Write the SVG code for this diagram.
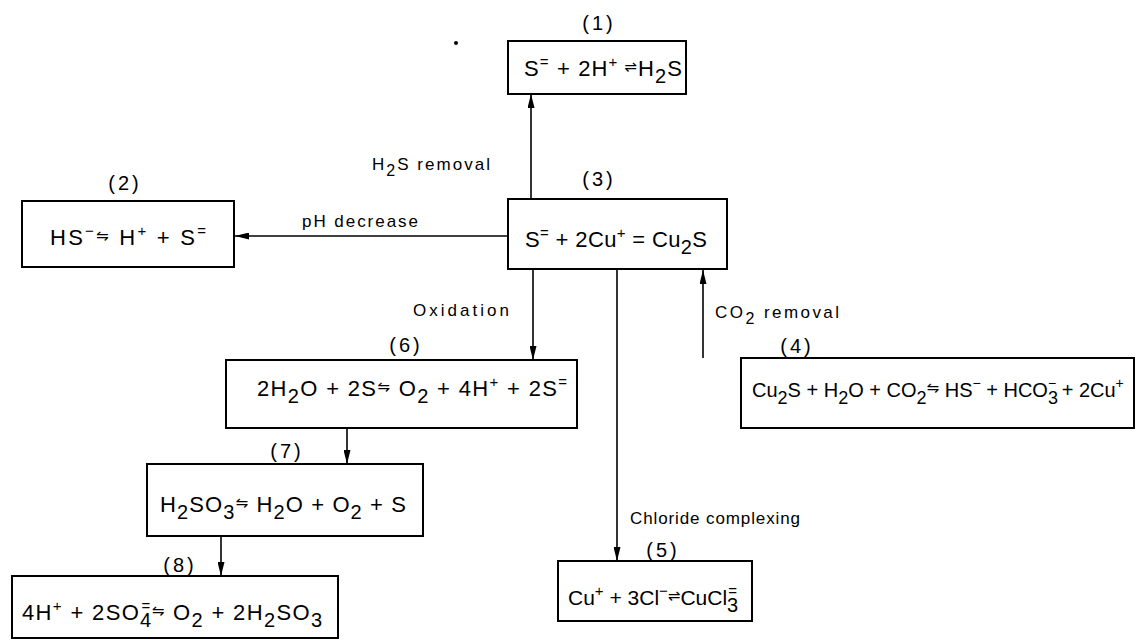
<svg xmlns="http://www.w3.org/2000/svg" width="1138" height="640" viewBox="0 0 1138 640">
<defs>
<marker id="ah" markerUnits="userSpaceOnUse" markerWidth="14" markerHeight="7" refX="14" refY="3.5" orient="auto">
<path d="M0,0 L14,3.5 L0,7 z" fill="#000"/>
</marker>
<style>
text{font-family:"Liberation Sans",Arial,sans-serif;fill:#000}
.eq{font-size:22px}
.lab{font-size:17px}
.num{font-size:20px;text-anchor:middle;letter-spacing:3px}
.sup{font-size:15px}
.sub{font-size:20px}
.eqs{font-family:"DejaVu Sans",sans-serif;font-size:15px}
.box{fill:#fff;stroke:#000;stroke-width:2}
.con{stroke:#000;stroke-width:1.6;fill:none;marker-end:url(#ah)}
</style>
</defs>
<rect width="1138" height="640" fill="#fff"/>
<circle cx="456" cy="43" r="2" fill="#000"/>
<g id="connectors">
<line class="con" x1="531" y1="199" x2="531" y2="94"/>
<line class="con" x1="508" y1="236" x2="235" y2="236"/>
<line class="con" x1="533" y1="269" x2="533" y2="360"/>
<line class="con" x1="617" y1="269" x2="617" y2="561"/>
<line class="con" x1="703" y1="358" x2="703" y2="270"/>
<line class="con" x1="347" y1="428" x2="347" y2="464"/>
<line class="con" x1="221" y1="536" x2="221" y2="576"/>
<text class="lab" x="372" y="170" textLength="118">H<tspan style="font-size:16px" dy="6">2</tspan><tspan dy="-6">S removal</tspan></text>
<text class="lab" x="302" y="227" textLength="116">pH decrease</text>
<text class="lab" x="413" y="316" textLength="96">Oxidation</text>
<text class="lab" x="715" y="318" textLength="124">CO<tspan style="font-size:16px" dy="6">2</tspan><tspan dy="-6"> removal</tspan></text>
<text class="lab" x="630" y="524" textLength="170">Chloride complexing</text>
</g>
<g id="n1">
<text class="num" x="599" y="30">(1)</text>
<rect class="box" x="508" y="41" width="178" height="53"/>
<text class="eq" x="524" y="76" textLength="158">S<tspan class="sup" dy="-9">=</tspan><tspan dy="9"> + 2H</tspan><tspan class="sup" dy="-9">+</tspan><tspan class="eqs" dy="5"> ⇌</tspan><tspan dy="4">H</tspan><tspan class="sub" dy="7">2</tspan><tspan dy="-7">S</tspan></text>
</g>
<g id="n2">
<text class="num" x="125" y="190">(2)</text>
<rect class="box" x="22" y="201" width="212" height="66"/>
<text class="eq" x="50" y="245" textLength="156">HS<tspan class="sup" dy="-9">−</tspan><tspan class="eqs" dy="5">⇋</tspan><tspan dy="4"> H</tspan><tspan class="sup" dy="-9">+</tspan><tspan dy="9"> + S</tspan><tspan class="sup" dy="-9">=</tspan></text>
</g>
<g id="n3">
<text class="num" x="599" y="186">(3)</text>
<rect class="box" x="508" y="199" width="219" height="70"/>
<text class="eq" x="525" y="247" textLength="182">S<tspan class="sup" dy="-9">=</tspan><tspan dy="9"> + 2Cu</tspan><tspan class="sup" dy="-9">+</tspan><tspan dy="9"> = Cu</tspan><tspan class="sub" dy="7">2</tspan><tspan dy="-7">S</tspan></text>
</g>
<g id="n4">
<text class="num" x="797" y="353">(4)</text>
<rect class="box" x="741" y="358" width="393" height="70"/>
<text class="eq" x="752" y="397" style="font-size:20px">Cu<tspan class="sub" style="font-size:18px" dy="7">2</tspan><tspan dy="-7">S + H</tspan><tspan class="sub" style="font-size:18px" dy="7">2</tspan><tspan dy="-7">O + CO</tspan><tspan class="sub" style="font-size:18px" dy="7">2</tspan><tspan class="eqs" dy="-11">⇋</tspan><tspan dy="4"> HS</tspan><tspan class="sup" style="font-size:14px" dy="-9">−</tspan><tspan dy="9"> + HCO</tspan><tspan class="sub" style="font-size:18px" dy="7">3</tspan><tspan class="sup" style="font-size:14px" dx="-10" dy="-16">−</tspan><tspan dy="9"> + 2Cu</tspan><tspan class="sup" style="font-size:14px" dy="-9">+</tspan></text>
</g>
<g id="n5">
<text class="num" x="663" y="557">(5)</text>
<rect class="box" x="558" y="561" width="194" height="60"/>
<text class="eq" x="568" y="605" style="font-size:21px">Cu<tspan class="sup" dy="-9">+</tspan><tspan dy="9"> + 3Cl</tspan><tspan class="sup" dy="-9">−</tspan><tspan class="eqs" dy="5">⇌</tspan><tspan dy="4">CuCl</tspan><tspan class="sub" dy="7">3</tspan><tspan class="sup" dx="-10" dy="-16">=</tspan></text>
</g>
<g id="n6">
<text class="num" x="406" y="352">(6)</text>
<rect class="box" x="226" y="360" width="351" height="68"/>
<text class="eq" x="257" y="396" textLength="310">2H<tspan class="sub" dy="7">2</tspan><tspan dy="-7">O + 2S</tspan><tspan class="eqs" dy="-4">⇋</tspan><tspan dy="4"> O</tspan><tspan class="sub" dy="7">2</tspan><tspan dy="-7"> + 4H</tspan><tspan class="sup" dy="-9">+</tspan><tspan dy="9"> + 2S</tspan><tspan class="sup" dy="-9">=</tspan></text>
</g>
<g id="n7">
<text class="num" x="287" y="458">(7)</text>
<rect class="box" x="147" y="464" width="276" height="72"/>
<text class="eq" x="160" y="512" textLength="246">H<tspan class="sub" dy="7">2</tspan><tspan dy="-7">SO</tspan><tspan class="sub" dy="7">3</tspan><tspan class="eqs" dy="-11">⇋</tspan><tspan dy="4"> H</tspan><tspan class="sub" dy="7">2</tspan><tspan dy="-7">O + O</tspan><tspan class="sub" dy="7">2</tspan><tspan dy="-7"> + S</tspan></text>
</g>
<g id="n8">
<text class="num" x="180" y="572">(8)</text>
<rect class="box" x="12" y="576" width="326" height="62"/>
<text class="eq" x="22" y="620" textLength="300">4H<tspan class="sup" dy="-9">+</tspan><tspan dy="9"> + 2SO</tspan><tspan class="sub" dy="7">4</tspan><tspan class="sup" dx="-11" dy="-16">=</tspan><tspan class="eqs" dy="5">⇋</tspan><tspan dy="4"> O</tspan><tspan class="sub" dy="7">2</tspan><tspan dy="-7"> + 2H</tspan><tspan class="sub" dy="7">2</tspan><tspan dy="-7">SO</tspan><tspan class="sub" dy="7">3</tspan></text>
</g>
</svg>
